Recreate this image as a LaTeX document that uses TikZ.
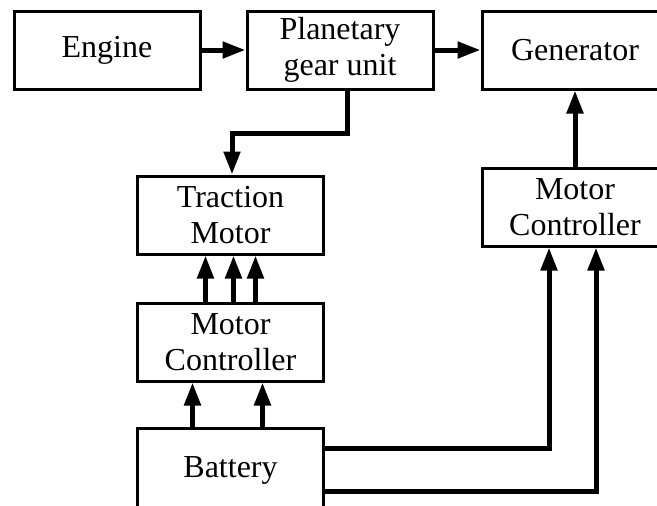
\documentclass[tikz,border=0pt]{standalone}
\usepackage{fontspec}
\setmainfont{Liberation Serif}
\usetikzlibrary{arrows.meta,positioning}

\begin{document}
\begin{tikzpicture}[
    x=1pt, y=-1pt,
    node distance=44pt,
    block/.style={rectangle, draw, line width=3pt, minimum width=186pt, minimum height=78pt, inner sep=0pt, align=center, font=\fontsize{32}{36}\selectfont},
    arrow/.style={-{Triangle[length=23pt,width=16pt]}, line width=5pt}
]
    \useasboundingbox (0,0) rectangle (657,506);
    \clip (0,0) rectangle (657,506);

    % top row
    \node[block] (engine) at (107,50) {Engine};
    \node[block, right=of engine] (planet) {Planetary\\gear unit};
    \node[block, right=46pt of planet] (gen) {Generator};
    \node[block, below=76pt of gen] (ctrlR) {Motor\\Controller};

    % left column
    \node[block] (traction) at (230.5,215) {Traction\\Motor};
    \node[block, below=46pt of traction] (ctrlL) {Motor\\Controller};
    \node[block, below=of ctrlL, minimum height=100pt] (battery) {Battery\\[-14pt]\mbox{}};

    \coordinate (bend) at (232,133);

    \draw[arrow] (engine) -- (planet);
    \draw[arrow] (planet) -- (gen);
    \draw[arrow] ([xshift=7pt]planet.south) |- (bend) -- (bend |- traction.north);
    \draw[arrow] (ctrlR) -- (gen);
    \foreach \dx in {-25,3,25}
        \draw[arrow] ([xshift=\dx pt]ctrlL.north) -- ([xshift=\dx pt]traction.south);
    \foreach \dx in {-38,32}
        \draw[arrow] ([xshift=\dx pt]battery.north) -- ([xshift=\dx pt]ctrlL.south);
    \draw[arrow] ([yshift=30pt]battery.east) -| ([xshift=-26pt]ctrlR.south);
    \draw[arrow] ([yshift=-13pt]battery.east) -| ([xshift=21pt]ctrlR.south);
\end{tikzpicture}
\end{document}
